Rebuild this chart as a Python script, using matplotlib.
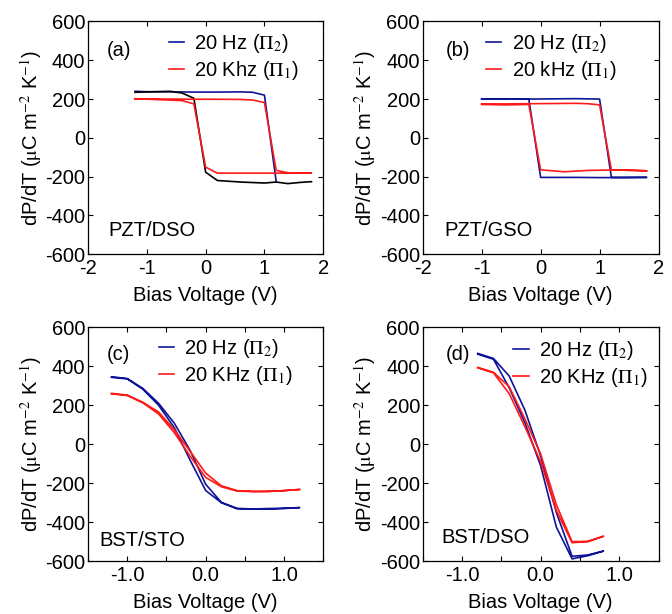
import numpy as np
import matplotlib
matplotlib.use("Agg")
import matplotlib.pyplot as plt
from matplotlib.ticker import MultipleLocator

plt.rcParams['font.family'] = ['Liberation Sans', 'DejaVu Sans']
plt.rcParams['mathtext.fontset'] = 'stix'
plt.rcParams['axes.unicode_minus'] = False
plt.rcParams['xtick.direction'] = 'in'
plt.rcParams['ytick.direction'] = 'in'
plt.rcParams['xtick.top'] = True
plt.rcParams['ytick.right'] = True

BLUE = '#0f1496'
RED = '#ff1a1a'

# (a) PZT/DSO, 20 Hz loop: forward branch (blue) and return branch (black)
a_hz_up_x = [-1.2, -1.0, -0.6, -0.2, 0.2, 0.6, 0.8, 1.0, 1.2]
a_hz_up_y = [240, 238, 237, 236, 236, 237, 235, 220, -225]
a_hz_dn_x = [1.8, 1.6, 1.4, 1.2, 1.0, 0.6, 0.2, 0.0, -0.2, -0.4, -0.6, -1.2]
a_hz_dn_y = [-226, -230, -236, -228, -233, -228, -220, -177, 204, 231, 240, 235]
# (a) 20 kHz loop
a_khz_x = [-1.2, -0.6, -0.2, 0.2, 0.6, 0.8, 1.0, 1.2, 1.4, 1.8,
           1.4, 1.0, 0.6, 0.2, 0.0, -0.2, -0.4, -1.2]
a_khz_y = [200, 200, 199, 199, 198, 195, 182, -168, -180, -182,
           -182, -182, -182, -182, -151, 175, 192, 202]

# (b) PZT/GSO
b_hz_x = [-1.0, -0.6, -0.2, 0.2, 0.6, 1.0, 1.2, 1.8, 1.4, 1.0, 0.6, 0.2, 0.0, -0.2, -1.0]
b_hz_y = [200, 200, 200, 201, 202, 200, -204, -204, -205, -205, -204, -204, -204, 200, 200]
b_khz_x = [-1.0, -0.6, -0.2, 0.2, 0.6, 0.8, 1.0, 1.2, 1.6, 1.8,
           1.6, 1.2, 0.8, 0.4, 0.2, 0.0, -0.2, -0.6, -1.0]
b_khz_y = [174, 175, 176, 177, 178, 176, 170, -165, -168, -170,
           -168, -166, -168, -175, -170, -165, 172, 170, 172]

# (c) BST/STO
c_hz_x = [-1.2, -1.0, -0.8, -0.6, -0.4, -0.2, 0.0, 0.2, 0.4, 0.6, 0.8, 1.0, 1.2,
          1.0, 0.8, 0.6, 0.4, 0.2, 0.0, -0.2, -0.4, -0.6, -0.8, -1.0, -1.2]
c_hz_y = [346, 337, 286, 210, 108, -30, -205, -298, -329, -332, -330, -328, -325,
          -330, -333, -333, -331, -300, -237, -80, 85, 200, 282, 335, 343]
c_khz_x = [-1.2, -1.0, -0.8, -0.6, -0.4, -0.2, 0.0, 0.2, 0.4, 0.6, 0.8, 1.0, 1.2,
           1.0, 0.8, 0.6, 0.4, 0.2, 0.0, -0.2, -0.4, -0.6, -0.8, -1.0, -1.2]
c_khz_y = [261, 252, 215, 165, 75, -35, -148, -213, -238, -242, -242, -238, -232,
           -238, -242, -243, -240, -218, -170, -60, 60, 155, 212, 250, 258]

# (d) BST/DSO
d_hz_x = [-0.8, -0.6, -0.4, -0.2, 0.0, 0.2, 0.4, 0.6, 0.8,
          0.6, 0.4, 0.2, 0.0, -0.2, -0.4, -0.6, -0.8]
d_hz_y = [466, 440, 350, 175, -60, -350, -575, -568, -548,
          -572, -588, -425, -110, 110, 290, 436, 462]
d_khz_x = [-0.8, -0.6, -0.4, -0.2, 0.0, 0.2, 0.4, 0.6, 0.8,
           0.6, 0.4, 0.2, 0.0, -0.2, -0.4, -0.6, -0.8]
d_khz_y = [394, 369, 295, 130, -50, -310, -500, -498, -472,
           -500, -505, -340, -90, 90, 260, 366, 392]

ylabel = r'dP/dT ($\mathrm{\mu}$C m$^{-2}$ K$^{-1}$)'
xlabel = 'Bias Voltage (V)'
fs = 14.5

fig = plt.figure(figsize=(6.72, 6.14), dpi=100)
ax_a = fig.add_axes([0.131, 0.586, 0.350, 0.379])
ax_b = fig.add_axes([0.629, 0.586, 0.351, 0.379])
ax_c = fig.add_axes([0.131, 0.086, 0.350, 0.381])
ax_d = fig.add_axes([0.629, 0.086, 0.351, 0.381])

lw = 1.2
ax_a.plot(a_hz_up_x, a_hz_up_y, color=BLUE, lw=lw, label=r'20 Hz ($\Pi_2$)')
ax_a.plot(a_hz_dn_x, a_hz_dn_y, color='black', lw=lw)
ax_a.plot(a_khz_x, a_khz_y, color=RED, lw=lw, label=r'20 Khz ($\Pi_1$)')

ax_b.plot(b_hz_x, b_hz_y, color=BLUE, lw=lw, label=r'20 Hz ($\Pi_2$)')
ax_b.plot(b_khz_x, b_khz_y, color=RED, lw=lw, label=r'20 kHz ($\Pi_1$)')

ax_c.plot(c_hz_x, c_hz_y, color=BLUE, lw=lw, label=r'20 Hz ($\Pi_2$)')
ax_c.plot(c_khz_x, c_khz_y, color=RED, lw=lw, label=r'20 KHz ($\Pi_1$)')

ax_d.plot(d_hz_x, d_hz_y, color=BLUE, lw=lw, label=r'20 Hz ($\Pi_2$)')
ax_d.plot(d_khz_x, d_khz_y, color=RED, lw=lw, label=r'20 KHz ($\Pi_1$)')

setup = [
    (ax_a, '(a)', 'PZT/DSO', (0.08, 0.876), (0.085, 0.103), (0.345, 0.955)),
    (ax_b, '(b)', 'PZT/GSO', (0.097, 0.876), (0.09, 0.103), (0.27, 0.955)),
    (ax_c, '(c)', 'BST/STO', (0.08, 0.885), (0.047, 0.09), (0.30, 0.96)),
    (ax_d, '(d)', 'BST/DSO', (0.097, 0.885), (0.08, 0.103), (0.385, 0.95)),
]

for ax, tag, name, tpos, npos, lpos in setup:
    ax.set_ylim(-600, 600)
    ax.yaxis.set_major_locator(MultipleLocator(200))
    ax.set_ylabel(ylabel, fontsize=fs, labelpad=1)
    ax.set_xlabel(xlabel, fontsize=fs, labelpad=6)
    ax.tick_params(which='both', labelsize=fs, length=3.5, width=0.8, pad=2)
    ax.tick_params(axis='x', pad=3.5)
    for s in ax.spines.values():
        s.set_linewidth(0.9)
    ax.text(tpos[0], tpos[1], tag, transform=ax.transAxes, fontsize=fs,
            ha='left', va='center')
    ax.text(npos[0], npos[1], name, transform=ax.transAxes, fontsize=fs,
            ha='left', va='center')
    ax.legend(loc='upper left', bbox_to_anchor=lpos, frameon=False, fontsize=fs,
              handlelength=0.75, handletextpad=0.5, borderpad=0, borderaxespad=0,
              labelspacing=0.2)

for ax in (ax_a, ax_b):
    ax.set_xlim(-2, 2)
    ax.xaxis.set_major_locator(MultipleLocator(1))

for ax in (ax_c, ax_d):
    ax.set_xlim(-1.5, 1.5)
    ax.xaxis.set_major_locator(MultipleLocator(1))
    ax.xaxis.set_minor_locator(MultipleLocator(0.5))
    ax.xaxis.set_major_formatter(matplotlib.ticker.FormatStrFormatter('%.1f'))

fig.savefig('out.png', dpi=100)
